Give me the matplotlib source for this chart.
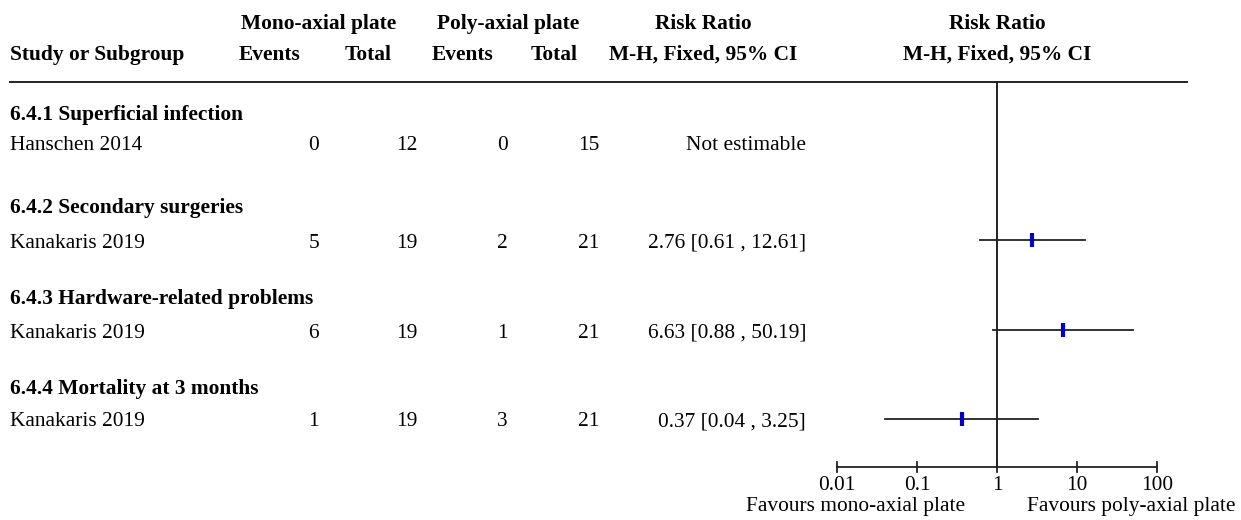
import numpy as np
import matplotlib
matplotlib.use("Agg")
import matplotlib.pyplot as plt

plt.rcParams['font.family'] = ['Liberation Serif', 'DejaVu Serif']

# Data
group_names = ["6.4.1 Superficial infection", "6.4.2 Secondary surgeries",
               "6.4.3 Hardware-related problems", "6.4.4 Mortality at 3 months"]
studies = ["Hanschen 2014", "Kanakaris 2019", "Kanakaris 2019", "Kanakaris 2019"]
mono_events = [0, 5, 6, 1]
mono_total = [12, 19, 19, 19]
poly_events = [0, 2, 1, 3]
poly_total = [15, 21, 21, 21]
rr = [np.nan, 2.76, 6.63, 0.37]
ci_low = [np.nan, 0.61, 0.88, 0.04]
ci_high = [np.nan, 12.61, 50.19, 3.25]
axis_ticks = [0.01, 0.1, 1, 10, 100]
tick_labels = ["0.01", "0.1", "1", "10", "100"]

W, H = 1241, 520
FS = 15.4
fig = plt.figure(figsize=(W / 100, H / 100), dpi=100)

# text layer in pixel coordinates
tx = fig.add_axes([0, 0, 1, 1])
tx.set_xlim(0, W)
tx.set_ylim(H, 0)
tx.axis('off')

# forest layer: log scale, 0.01..100 spans x=837..1157 px
fx0, fx1 = 837, 1157
fx = fig.add_axes([fx0 / W, 0, (fx1 - fx0) / W, 1])
fx.set_xscale('log')
fx.set_xlim(0.01, 100)
fx.set_ylim(H, 0)
fx.axis('off')

# header
hy1, hy2 = 24, 55
bold = dict(fontsize=FS, fontweight='bold', va='center')
tx.text(319, hy1, "Mono-axial plate", ha='center', **bold)
tx.text(508, hy1, "Poly-axial plate", ha='center', **bold)
tx.text(703, hy1, "Risk Ratio", ha='center', **bold)
tx.text(997, hy1, "Risk Ratio", ha='center', **bold)
tx.text(10, hy2, "Study or Subgroup", ha='left', **bold)
tx.text(270, hy2, "Events", ha='center', **bold)
tx.text(368, hy2, "Total", ha='center', **bold)
tx.text(463, hy2, "Events", ha='center', **bold)
tx.text(554, hy2, "Total", ha='center', **bold)
tx.text(703, hy2, "M-H, Fixed, 95% CI", ha='center', **bold)
tx.text(997, hy2, "M-H, Fixed, 95% CI", ha='center', **bold)
tx.plot([10, 1187], [82, 82], color='#222222', lw=1.4)

# rows
group_y = [113, 206, 297, 387]
study_y = [142, 240, 330, 419]
text_dy = 3
col_x = [319, 417, 508, 599]
norm = dict(fontsize=FS, va='center')
for i in range(len(studies)):
    tx.text(10, group_y[i] + 2, group_names[i], ha='left', **bold)
    y = study_y[i]
    tx.text(10, y + text_dy, studies[i], ha='left', **norm)
    for cx, v in zip(col_x, [mono_events[i], mono_total[i], poly_events[i], poly_total[i]]):
        tx.text(cx, y + text_dy, str(v), ha='right', **norm)
    if np.isnan(rr[i]):
        tx.text(806, y + text_dy, "Not estimable", ha='right', **norm)
    else:
        tx.text(806, y + text_dy, f"{rr[i]:.2f} [{ci_low[i]:.2f} , {ci_high[i]:.2f}]",
                ha='right', **norm)
        fx.plot([ci_low[i], ci_high[i]], [y, y], color='#222222', lw=1.3, clip_on=False)
        fx.plot([rr[i]], [y], marker='|', markersize=10.5, mew=3.0, color='#0000cc',
                clip_on=False, zorder=5)

# line of no effect and scale
axis_y = 467
fx.plot([1, 1], [82, axis_y], color='#222222', lw=1.4, clip_on=False)
fx.plot([axis_ticks[0], axis_ticks[-1]], [axis_y, axis_y], color='#222222', lw=1.3, clip_on=False)
for t, lab in zip(axis_ticks, tick_labels):
    fx.plot([t, t], [axis_y - 5, axis_y + 5], color='#222222', lw=1.3, clip_on=False)
    fx.text(t, 486, lab, ha='center', va='center', fontsize=FS)
tx.text(965, 507, "Favours mono-axial plate", ha='right', va='center', fontsize=FS)
tx.text(1027, 507, "Favours poly-axial plate", ha='left', va='center', fontsize=FS)

fig.savefig("out.png", dpi=100)
